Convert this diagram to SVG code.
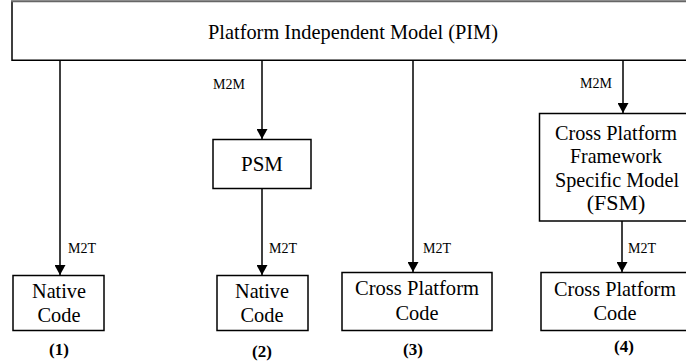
<svg xmlns="http://www.w3.org/2000/svg" width="686" height="364" viewBox="0 0 686 364">
<style>
.box{fill:#fff;stroke:#000;stroke-width:1.5}
.t{font-family:'Liberation Serif','Times New Roman','DejaVu Serif',serif;font-size:22px;fill:#000;text-anchor:middle}
.lbl{font-family:'Liberation Serif','Times New Roman','DejaVu Serif',serif;font-size:14px;fill:#000}
.num{font-family:'Liberation Serif','Times New Roman','DejaVu Serif',serif;font-size:17px;font-weight:bold;fill:#000;text-anchor:middle}
.ln{stroke:#000;stroke-width:1.5;fill:none}
</style>
<defs>
<marker id="ah" viewBox="0 0 10 10" refX="10" refY="5" markerWidth="10" markerHeight="11" markerUnits="userSpaceOnUse" orient="auto" preserveAspectRatio="none">
<path d="M0,0 L10,5 L0,10 Z" fill="#000"/>
</marker>
</defs>
<g id="pim">
<rect x="12" y="1.2" width="690" height="59" fill="#fff"/>
<path class="ln" d="M12,1.2 V60.2 H702"/>
<line x1="11" y1="1.2" x2="702" y2="1.2" stroke="#666" stroke-width="2"/>
<text class="t" x="353" y="39" textLength="290" lengthAdjust="spacingAndGlyphs">Platform Independent Model (PIM)</text>
</g>
<g id="psm">
<rect class="box" x="213" y="139.5" width="98" height="49"/>
<text class="t" x="262" y="171" textLength="42" lengthAdjust="spacingAndGlyphs">PSM</text>
</g>
<g id="fsm">
<rect class="box" x="539.5" y="113.5" width="160" height="107.5"/>
<text class="t" x="616" y="139.5" textLength="122" lengthAdjust="spacingAndGlyphs">Cross Platform</text>
<text class="t" x="616" y="163" textLength="92" lengthAdjust="spacingAndGlyphs">Framework</text>
<text class="t" x="617" y="186.5" textLength="124" lengthAdjust="spacingAndGlyphs">Specific Model</text>
<text class="t" x="616" y="210">(FSM)</text>
</g>
<g id="native1">
<rect class="box" x="13" y="275.5" width="91" height="55"/>
<text class="t" x="59" y="298" textLength="54" lengthAdjust="spacingAndGlyphs">Native</text>
<text class="t" x="59" y="322" textLength="43" lengthAdjust="spacingAndGlyphs">Code</text>
</g>
<g id="native2">
<rect class="box" x="217" y="275.5" width="91" height="55"/>
<text class="t" x="262" y="298" textLength="54" lengthAdjust="spacingAndGlyphs">Native</text>
<text class="t" x="262" y="322" textLength="43" lengthAdjust="spacingAndGlyphs">Code</text>
</g>
<g id="cross3">
<rect class="box" x="342" y="272.5" width="150" height="58"/>
<text class="t" x="417" y="295" textLength="124" lengthAdjust="spacingAndGlyphs">Cross Platform</text>
<text class="t" x="417" y="320" textLength="43" lengthAdjust="spacingAndGlyphs">Code</text>
</g>
<g id="cross4">
<rect class="box" x="541" y="272.5" width="160" height="58"/>
<text class="t" x="615" y="296" textLength="122" lengthAdjust="spacingAndGlyphs">Cross Platform</text>
<text class="t" x="615" y="320" textLength="43" lengthAdjust="spacingAndGlyphs">Code</text>
</g>
<g id="connectors">
<line class="ln" x1="60" y1="60" x2="60" y2="275" marker-end="url(#ah)"/>
<line class="ln" x1="262" y1="60" x2="262" y2="139" marker-end="url(#ah)"/>
<line class="ln" x1="262" y1="188.5" x2="262" y2="275" marker-end="url(#ah)"/>
<line class="ln" x1="413" y1="60" x2="413" y2="272" marker-end="url(#ah)"/>
<line class="ln" x1="623" y1="60" x2="623" y2="113" marker-end="url(#ah)"/>
<line class="ln" x1="622" y1="221" x2="622" y2="272" marker-end="url(#ah)"/>
<text class="lbl" x="213" y="89">M2M</text>
<text class="lbl" x="580" y="88">M2M</text>
<text class="lbl" x="68" y="253">M2T</text>
<text class="lbl" x="269" y="253">M2T</text>
<text class="lbl" x="423" y="253">M2T</text>
<text class="lbl" x="628" y="253">M2T</text>
</g>
<g id="numbers">
<text class="num" x="59" y="355">(1)</text>
<text class="num" x="262" y="357">(2)</text>
<text class="num" x="413" y="355">(3)</text>
<text class="num" x="624" y="352">(4)</text>
</g>
</svg>
